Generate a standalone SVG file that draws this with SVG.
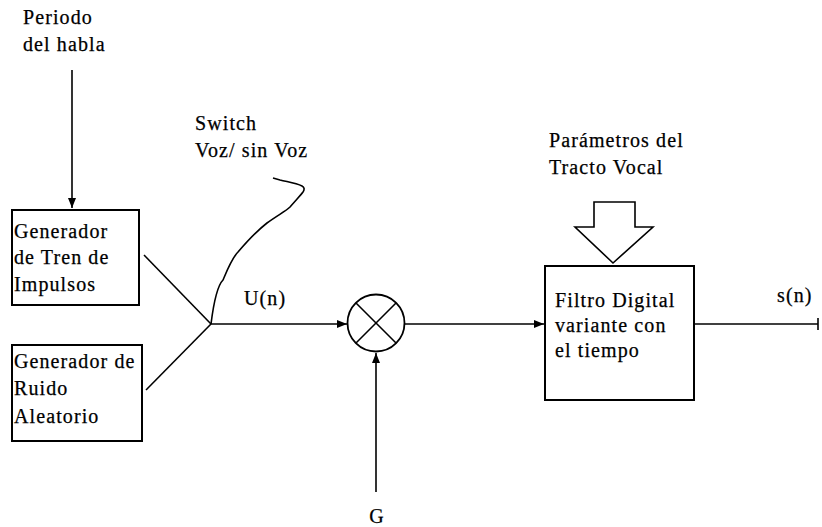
<svg xmlns="http://www.w3.org/2000/svg" width="822" height="527" viewBox="0 0 822 527">
<style>
text{font-family:"Liberation Serif","Times New Roman",serif;font-size:20px;letter-spacing:1.1px;fill:#000;stroke:#000;stroke-width:0.25}
.box{fill:#fff;stroke:#000;stroke-width:2}
.ln{fill:none;stroke:#000;stroke-width:1.6}
</style>
<defs>
<marker id="ah" viewBox="0 0 10 10" refX="10" refY="5" markerWidth="10" markerHeight="10" markerUnits="userSpaceOnUse" orient="auto">
<path d="M0,1 L10,5 L0,9 Z" fill="#000"/>
</marker>
</defs>
<rect width="822" height="527" fill="#fff"/>
<g id="connectors">
<line class="ln" x1="72" y1="70" x2="72" y2="208" marker-end="url(#ah)"/>
<line class="ln" x1="144" y1="255" x2="211" y2="324"/>
<line class="ln" x1="146" y1="390" x2="211" y2="324"/>
<path class="ln" d="M211,324 C214,300 218,285 223,280 C228,268 232,258 238,252 C250,238 258,230 267,223 C278,215 286,211 290,207 C296,200 300,196 303,192 C305,189 304,187 302,186 C296,183 288,182 280,180 L273,178"/>
<line class="ln" x1="211" y1="324" x2="347" y2="324" marker-end="url(#ah)"/>
<line class="ln" x1="376" y1="492" x2="376" y2="353" marker-end="url(#ah)"/>
<line class="ln" x1="405" y1="324" x2="544" y2="324" marker-end="url(#ah)"/>
<line class="ln" x1="694" y1="324" x2="818" y2="324"/>
<line class="ln" x1="818" y1="318" x2="818" y2="330"/>
<path class="ln" d="M594,202 L635,202 L635,227 L653,227 L613,263 L575,227 L594,227 Z" fill="#fff"/>
</g>
<g id="periodo">
<text x="23" y="24">Periodo</text>
<text x="23" y="51">del habla</text>
</g>
<g id="gen-tren">
<rect class="box" x="12" y="210" width="127" height="95"/>
<text x="14" y="238">Generador</text>
<text x="14" y="264">de Tren de</text>
<text x="14" y="291">Impulsos</text>
</g>
<g id="gen-ruido">
<rect class="box" x="12" y="345" width="130" height="96"/>
<text x="14" y="368">Generador de</text>
<text x="14" y="395">Ruido</text>
<text x="14" y="423">Aleatorio</text>
</g>
<g id="switch">
<text x="195" y="130">Switch</text>
<text x="195" y="157">Voz/ sin Voz</text>
</g>
<g id="un"><text x="244" y="305">U(n)</text></g>
<g id="mult">
<circle cx="376" cy="323" r="28.5" fill="#fff" stroke="#000" stroke-width="1.8"/>
<line class="ln" x1="356" y1="303" x2="396" y2="343"/>
<line class="ln" x1="396" y1="303" x2="356" y2="343"/>
</g>
<g id="g"><text x="377" y="523" text-anchor="middle">G</text></g>
<g id="parametros">
<text x="549" y="147">Parámetros del</text>
<text x="549" y="174">Tracto Vocal</text>
</g>
<g id="filtro">
<rect class="box" x="545" y="266" width="149" height="134"/>
<text x="555" y="307">Filtro Digital</text>
<text x="555" y="332">variante con</text>
<text x="555" y="357">el tiempo</text>
</g>
<g id="sn"><text x="777" y="302">s(n)</text></g>
</svg>
